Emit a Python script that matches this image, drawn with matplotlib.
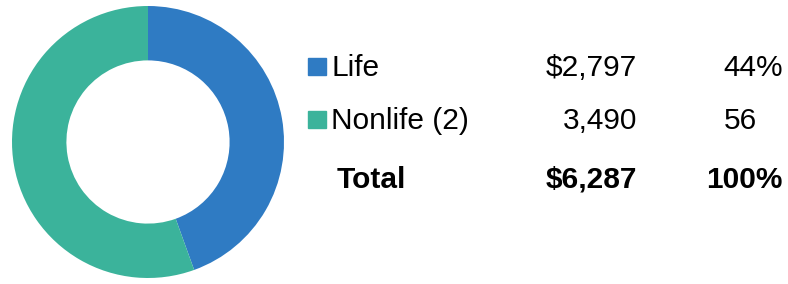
import matplotlib.pyplot as plt
from matplotlib.patches import Rectangle

labels = ['Life', 'Nonlife (2)']
values = [2797, 3490]
value_text = ['$2,797', '3,490']
pct_text = ['44%', '56']
colors = ['#2F7BC3', '#3BB39B']
total_value = '$6,287'
total_pct = '100%'

W, H = 788, 284
plt.rcParams['font.family'] = ['Liberation Sans', 'DejaVu Sans']

fig = plt.figure(figsize=(W / 100, H / 100), dpi=100)

# Кольцевая диаграмма
cx, cy, r = 148, 142, 136
ax = fig.add_axes([(cx - r) / W, (H - cy - r) / H, 2 * r / W, 2 * r / H])
ax.pie(values, colors=colors, startangle=90, counterclock=False,
       wedgeprops=dict(width=0.4, edgecolor='none'), radius=1.0)
ax.set_xlim(-1, 1)
ax.set_ylim(-1, 1)
ax.set_aspect('equal')
ax.axis('off')


def fx(x):
    return x / W


def fy(y):
    return 1 - y / H


# Таблица с легендой
baselines = [76, 129, 188]
fs = 21.5
for i, lab in enumerate(labels):
    yb = baselines[i]
    fig.patches.append(Rectangle((fx(308), fy(yb - 1)), 18 / W, 17 / H,
                                 transform=fig.transFigure, color=colors[i]))
    fig.text(fx(331), fy(yb), lab, fontsize=fs, va='baseline', ha='left')
    fig.text(fx(637), fy(yb), value_text[i], fontsize=fs, va='baseline', ha='right')
    px = 783 if pct_text[i].endswith('%') else 757
    fig.text(fx(px), fy(yb), pct_text[i], fontsize=fs, va='baseline', ha='right')

yb = baselines[2]
fig.text(fx(337), fy(yb), 'Total', fontsize=fs, fontweight='bold', va='baseline', ha='left')
fig.text(fx(637), fy(yb), total_value, fontsize=fs, fontweight='bold', va='baseline', ha='right')
fig.text(fx(783), fy(yb), total_pct, fontsize=fs, fontweight='bold', va='baseline', ha='right')

fig.savefig('out.png', dpi=100)
